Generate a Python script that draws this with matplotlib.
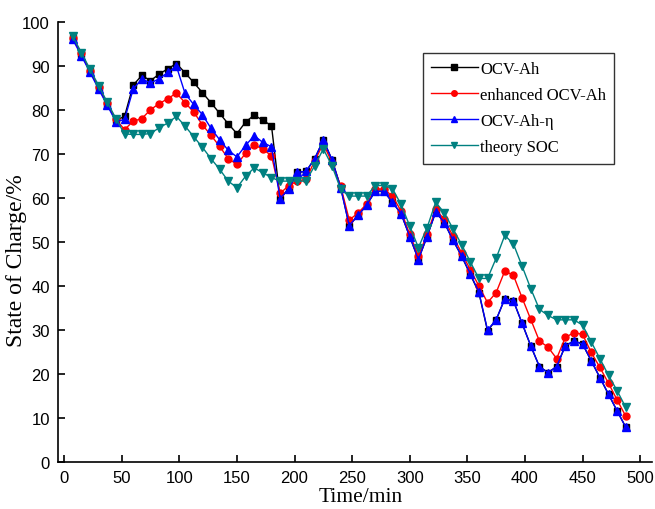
import matplotlib.pyplot as plt

# time axis (min), one sample every 7.5 min
time_min = [7.5, 15, 22.5, 30, 37.5, 45, 52.5, 60, 67.5, 75,
            82.5, 90, 97.5, 105, 112.5, 120, 127.5, 135, 142.5, 150,
            157.5, 165, 172.5, 180, 187.5, 195, 202.5, 210, 217.5, 225,
            232.5, 240, 247.5, 255, 262.5, 270, 277.5, 285, 292.5, 300,
            307.5, 315, 322.5, 330, 337.5, 345, 352.5, 360, 367.5, 375,
            382.5, 390, 397.5, 405, 412.5, 420, 427.5, 435, 442.5, 450,
            457.5, 465, 472.5, 480, 487.5]

ocv_ah = [96.4, 92.6, 88.8, 85.0, 81.3, 77.6, 78.5, 85.6, 87.8, 86.6,
          88.1, 89.3, 90.5, 88.4, 86.2, 83.9, 81.6, 79.2, 76.8, 74.6,
          77.2, 78.8, 77.6, 76.4, 59.8, 62.1, 65.8, 66.0, 68.9, 73.1,
          68.7, 62.5, 53.7, 56.0, 58.3, 61.5, 61.5, 59.0, 56.4, 51.2,
          46.0, 51.2, 56.8, 54.4, 50.4, 46.8, 42.6, 38.5, 29.8, 32.3,
          37.1, 36.6, 31.5, 26.4, 21.7, 20.3, 21.7, 26.4, 27.5, 26.8,
          23.0, 19.2, 15.4, 11.6, 7.9]

enhanced = [96.4, 92.8, 88.9, 85.2, 81.5, 77.8, 75.5, 77.4, 78.0, 80.0,
            81.4, 82.5, 83.8, 81.6, 79.5, 76.6, 74.2, 71.7, 68.9, 67.6,
            70.1, 72.1, 71.0, 69.6, 61.0, 62.8, 63.8, 64.2, 68.4, 72.3,
            68.0, 62.7, 55.0, 56.5, 58.6, 62.0, 62.0, 60.4, 57.0, 51.7,
            46.8, 51.7, 57.4, 55.1, 51.3, 47.5, 43.7, 40.0, 36.2, 38.5,
            43.4, 42.4, 37.3, 32.4, 27.5, 26.1, 23.5, 28.3, 29.4, 29.0,
            24.9, 21.5, 17.9, 14.1, 10.4]

ocv_ah_eta = [96.0, 92.3, 88.5, 84.7, 81.0, 77.3, 77.8, 84.7, 87.0, 86.1,
              87.0, 88.5, 89.9, 83.7, 81.2, 78.9, 75.8, 73.2, 70.8, 69.3,
              71.9, 74.1, 72.6, 71.6, 59.8, 62.1, 65.8, 66.0, 68.9, 73.1,
              68.7, 62.3, 53.7, 56.0, 58.3, 61.5, 61.5, 59.0, 56.4, 51.2,
              46.0, 51.2, 56.8, 54.4, 50.4, 46.8, 42.8, 38.6, 30.0, 32.3,
              37.1, 36.6, 31.5, 26.4, 21.7, 20.3, 21.7, 26.4, 27.5, 26.8,
              23.0, 19.2, 15.4, 11.6, 7.9]

theory = [96.7, 93.0, 89.2, 85.5, 81.7, 78.0, 74.5, 74.4, 74.4, 74.6,
          75.9, 77.0, 78.5, 76.3, 73.9, 71.5, 68.9, 66.5, 63.8, 62.3,
          64.9, 66.8, 65.7, 64.6, 63.8, 63.8, 63.8, 63.8, 67.3, 71.1,
          67.3, 62.0, 60.4, 60.4, 60.4, 62.8, 62.8, 62.1, 58.5, 53.6,
          48.7, 53.2, 59.0, 56.6, 53.0, 49.4, 45.5, 41.7, 41.7, 46.3,
          51.5, 49.5, 44.5, 39.4, 34.7, 33.3, 32.3, 32.3, 32.3, 31.1,
          27.3, 23.5, 19.7, 16.2, 12.4]

x_ticks = [0, 50, 100, 150, 200, 250, 300, 350, 400, 450, 500]
y_ticks = [0, 10, 20, 30, 40, 50, 60, 70, 80, 90, 100]

serif = ['Liberation Serif', 'DejaVu Serif']
sans = ['Liberation Sans', 'DejaVu Sans']

fig = plt.figure(figsize=(6.55, 5.10), dpi=100)
ax = fig.add_axes([0.089, 0.092, 0.906, 0.8635])

ax.plot(time_min, ocv_ah, color='black', marker='s', markersize=4.5, linewidth=1.0, label='OCV-Ah')
ax.plot(time_min, enhanced, color='red', marker='o', markersize=5, linewidth=1.0, label='enhanced OCV-Ah')
ax.plot(time_min, ocv_ah_eta, color='blue', marker='^', markersize=5.5, linewidth=1.0, label='OCV-Ah-η')
ax.plot(time_min, theory, color='#008080', marker='v', markersize=5.5, linewidth=1.0, label='theory SOC')

ax.set_xlim(-5, 510)
ax.set_ylim(0, 100)
ax.set_xticks(x_ticks)
ax.set_yticks(y_ticks)
ax.spines['top'].set_visible(False)
ax.spines['right'].set_visible(False)
ax.spines['left'].set_linewidth(1.2)
ax.spines['bottom'].set_linewidth(1.2)
ax.tick_params(direction='in', length=5, width=1.2, labelsize=12, pad=6)
for lbl in ax.get_xticklabels() + ax.get_yticklabels():
    lbl.set_family(sans)

ax.set_xlabel('Time/min', family=serif, fontsize=15.5)
ax.set_ylabel('State of Charge/%', family=serif, fontsize=17)
ax.xaxis.set_label_coords(0.51, -0.057)
ax.yaxis.set_label_coords(-0.053, 0.46)

leg = ax.legend(loc='upper right', bbox_to_anchor=(0.937, 0.929), borderaxespad=0,
                frameon=True, fancybox=False, edgecolor='black', handlelength=2.8,
                borderpad=0.5, labelspacing=0.6, handletextpad=0.15,
                prop={'family': serif, 'size': 12})
leg.get_frame().set_linewidth(1.0)
for h in leg.legend_handles:
    h.set_markersize(4)

fig.savefig('out.png', dpi=100)
